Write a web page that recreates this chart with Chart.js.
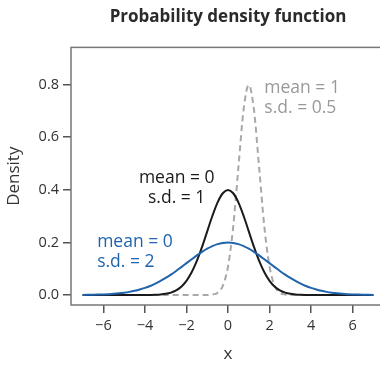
<!DOCTYPE html>
<html>
<head>
<meta charset="utf-8">
<script src="https://cdn.jsdelivr.net/npm/chart.js@4"></script>
<style>
  html, body { margin: 0; padding: 0; background: #fff; overflow: hidden; }
  #wrap { width: 385px; height: 368px; }
</style>
</head>
<body>
<div id="wrap"><canvas id="pdf"></canvas></div>
<script>
const xs = [-7, -6.75, -6.5, -6.25, -6, -5.75, -5.5, -5.25, -5, -4.75, -4.5, -4.25,
  -4, -3.75, -3.5, -3.25, -3, -2.75, -2.5, -2.25, -2, -1.75, -1.5, -1.25,
  -1, -0.75, -0.5, -0.25, 0, 0.25, 0.5, 0.75, 1, 1.25, 1.5, 1.75,
  2, 2.25, 2.5, 2.75, 3, 3.25, 3.5, 3.75, 4, 4.25, 4.5, 4.75,
  5, 5.25, 5.5, 5.75, 6, 6.25, 6.5, 6.75, 7];

// mean = 0, s.d. = 1
const densSd1 = [0, 0, 0, 0, 0, 0, 0, 0, 0, 0, 0, 0,
  0.0001, 0.0004, 0.0009, 0.0020, 0.0044, 0.0091, 0.0175, 0.0317, 0.0540, 0.0863, 0.1295, 0.1826,
  0.2420, 0.3011, 0.3521, 0.3867, 0.3989, 0.3867, 0.3521, 0.3011, 0.2420, 0.1826, 0.1295, 0.0863,
  0.0540, 0.0317, 0.0175, 0.0091, 0.0044, 0.0020, 0.0009, 0.0004, 0.0001, 0, 0, 0,
  0, 0, 0, 0, 0, 0, 0, 0, 0];

// mean = 0, s.d. = 2
const densSd2 = [0.0004, 0.0007, 0.0010, 0.0015, 0.0022, 0.0032, 0.0045, 0.0063, 0.0088, 0.0119, 0.0158, 0.0208,
  0.0270, 0.0344, 0.0431, 0.0533, 0.0648, 0.0775, 0.0913, 0.1061, 0.1210, 0.1359, 0.1506, 0.1640,
  0.1760, 0.1860, 0.1933, 0.1979, 0.1995, 0.1979, 0.1933, 0.1860, 0.1760, 0.1640, 0.1506, 0.1359,
  0.1210, 0.1061, 0.0913, 0.0775, 0.0648, 0.0533, 0.0431, 0.0344, 0.0270, 0.0208, 0.0158, 0.0119,
  0.0088, 0.0063, 0.0045, 0.0032, 0.0022, 0.0015, 0.0010, 0.0007, 0.0004];

// mean = 1, s.d. = 0.5
const densSdHalf = [0, 0, 0, 0, 0, 0, 0, 0, 0, 0, 0, 0,
  0, 0, 0, 0, 0, 0, 0, 0, 0, 0, 0, 0,
  0.0003, 0.0017, 0.0089, 0.0350, 0.1080, 0.2590, 0.4839, 0.7041, 0.7979, 0.7041, 0.4839, 0.2590,
  0.1080, 0.0350, 0.0089, 0.0017, 0.0003, 0, 0, 0, 0, 0, 0, 0,
  0, 0, 0, 0, 0, 0, 0, 0, 0];

const xTicks = [-6, -4, -2, 0, 2, 4, 6];
const yTicks = [0, 0.2, 0.4, 0.6, 0.8];

const FONT = '"Open Sans", "Noto Sans", sans-serif';

// text labels next to the curves (data coordinates)
const curveLabels = [
  { lines: ['mean = 1', 's.d. = 0.5'], x: 1.75, y: 0.785, color: '#999999', align: 'left' },
  { lines: ['mean = 0', 's.d. = 1'], x: -2.47, y: 0.446, color: '#1a1a1a', align: 'center' },
  { lines: ['mean = 0', 's.d. = 2'], x: -6.3, y: 0.202, color: '#1f63ad', align: 'left' }
];

const pts = (ys) => xs.map((x, i) => ({ x: x, y: ys[i] }));

const boxAndLabels = {
  id: 'boxAndLabels',
  afterDraw(chart) {
    const { ctx, chartArea, scales } = chart;
    ctx.save();
    ctx.strokeStyle = '#777777';
    ctx.lineWidth = 1.5;
    ctx.strokeRect(chartArea.left, chartArea.top, chartArea.right - chartArea.left, chartArea.bottom - chartArea.top);
    ctx.font = '17.5px ' + FONT;
    ctx.textBaseline = 'middle';
    curveLabels.forEach(l => {
      ctx.fillStyle = l.color;
      ctx.textAlign = l.align;
      const px = scales.x.getPixelForValue(l.x);
      const py = scales.y.getPixelForValue(l.y);
      l.lines.forEach((t, k) => ctx.fillText(t, px, py + k * 20));
    });
    ctx.restore();
  }
};

new Chart(document.getElementById('pdf'), {
  type: 'line',
  data: {
    datasets: [
      {
        data: pts(densSd2),
        borderColor: '#1f63ad',
        borderWidth: 2,
        pointRadius: 0,
        cubicInterpolationMode: 'monotone'
      },
      {
        data: pts(densSd1),
        borderColor: '#1a1a1a',
        borderWidth: 2,
        pointRadius: 0,
        cubicInterpolationMode: 'monotone'
      },
      {
        data: pts(densSdHalf),
        borderColor: '#a8a8a8',
        borderWidth: 2,
        borderDash: [6, 4],
        pointRadius: 0,
        cubicInterpolationMode: 'monotone'
      }
    ]
  },
  options: {
    responsive: true,
    maintainAspectRatio: false,
    animation: false,
    layout: { padding: 0 },
    plugins: {
      legend: { display: false },
      tooltip: { enabled: false },
      title: {
        display: true,
        fullSize: false,
        text: 'Probability density function',
        color: '#2a2a2a',
        font: { family: FONT, size: 17, weight: 'bold' },
        padding: { top: 7, bottom: 20 }
      }
    },
    scales: {
      x: {
        type: 'linear',
        min: -7.56,
        max: 7.56,
        afterBuildTicks: (s) => { s.ticks = xTicks.map(v => ({ value: v })); },
        afterFit: (s) => { s.height = 63; },
        grid: { drawOnChartArea: false, tickLength: 8, color: '#555', lineWidth: 1.5 },
        border: { display: false },
        ticks: {
          color: '#333',
          padding: 4,
          font: { family: FONT, size: 14.5 },
          callback: (v) => v < 0 ? '\u2212' + Math.abs(v) : String(v)
        },
        title: {
          display: true,
          text: 'x',
          color: '#333',
          font: { family: FONT, size: 17 },
          padding: { top: 12 }
        }
      },
      y: {
        type: 'linear',
        min: -0.038,
        max: 0.941,
        afterBuildTicks: (s) => { s.ticks = yTicks.map(v => ({ value: v })); },
        afterFit: (s) => { s.width = 71; },
        grid: { drawOnChartArea: false, tickLength: 8, color: '#555', lineWidth: 1.5 },
        border: { display: false },
        ticks: {
          color: '#333',
          padding: 4,
          font: { family: FONT, size: 14.5 },
          callback: (v) => v.toFixed(1)
        },
        title: {
          display: true,
          text: 'Density',
          color: '#333',
          font: { family: FONT, size: 17 },
          padding: { bottom: 3 }
        }
      }
    }
  },
  plugins: [boxAndLabels]
});
</script>
</body>
</html>
